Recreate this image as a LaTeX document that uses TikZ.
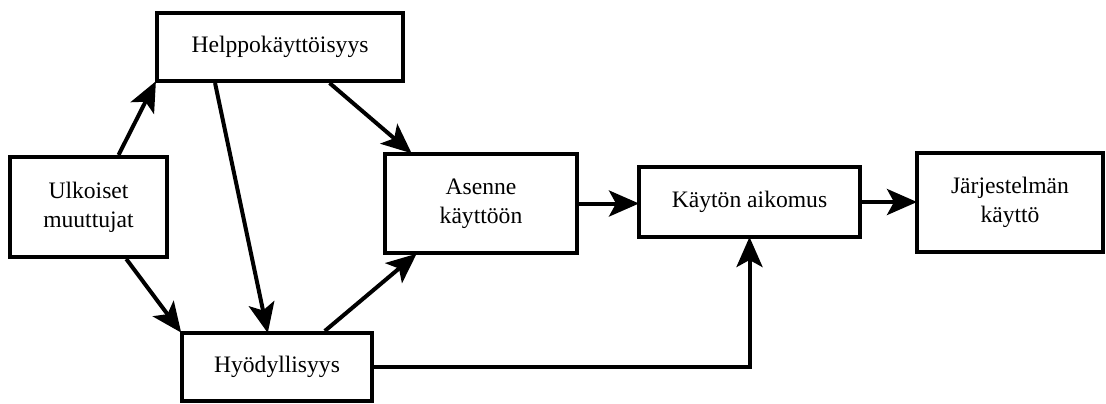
\documentclass[tikz,border=0pt]{standalone}
\usepackage{fontspec}
\setmainfont{Liberation Serif}
\newfontfamily\boxfont{Liberation Serif}
\usepackage{tikz}
\usetikzlibrary{arrows.meta, positioning, calc}

\begin{document}
\begin{tikzpicture}[
  x=0.5pt, y=-0.5pt,
  >={Stealth[length=15pt, width=13pt, inset=3.5pt]},
  box/.style={rectangle, draw=black, line width=2pt, align=center, inner sep=2pt,
    font=\boxfont\fontsize{11.8}{14.5}\selectfont},
  patharrow/.style={->, line width=2pt, shorten >=-1pt}
]
  \useasboundingbox (0,0) rectangle (1106,403);

  % External variables
  \node[box, minimum width=78.5pt, minimum height=50pt] (ulk) at (88.5,207) {Ulkoiset\\muuttujat};

  % Perceived ease of use and usefulness
  \node[box, minimum width=123pt, minimum height=34pt] (helppo) at (280,47) {Helppok\"aytt\"oisyys};
  \node[box, minimum width=95pt, minimum height=34pt] (hyody) at (277,367) {Hy\"odyllisyys};

  % Attitude, intention, use
  \node[box, minimum width=96pt, minimum height=49.5pt] (asenne) at (481,203.5) {Asenne\\k\"aytt\"o\"on};
  \node[box, minimum width=110.5pt, minimum height=35pt] (aikomus) at (749.5,202) {K\"ayt\"on aikomus};
  \node[box, minimum width=93pt, minimum height=49.5pt] (jarj) at (1010,202.5) {J\"arjestelm\"an\\k\"aytt\"o};

  % Arrows from external variables
  \draw[patharrow] (ulk.60) -- (helppo.south west);
  \draw[patharrow] (ulk.-54) -- (hyody.north west);

  % Arrows from ease of use
  \draw[patharrow] (helppo.-151) -- (hyody.105);
  \draw[patharrow] (helppo.-36) -- (asenne.144);

  % Arrows from usefulness
  \draw[patharrow] (hyody.37) -- (asenne.-142);
  \draw[patharrow] (hyody.east) -| (aikomus.south);

  % Attitude -> intention -> use
  \draw[patharrow] (asenne.east) -- (asenne.east -| aikomus.west);
  \draw[patharrow] (aikomus.east) -- (aikomus.east -| jarj.west);
\end{tikzpicture}
\end{document}
